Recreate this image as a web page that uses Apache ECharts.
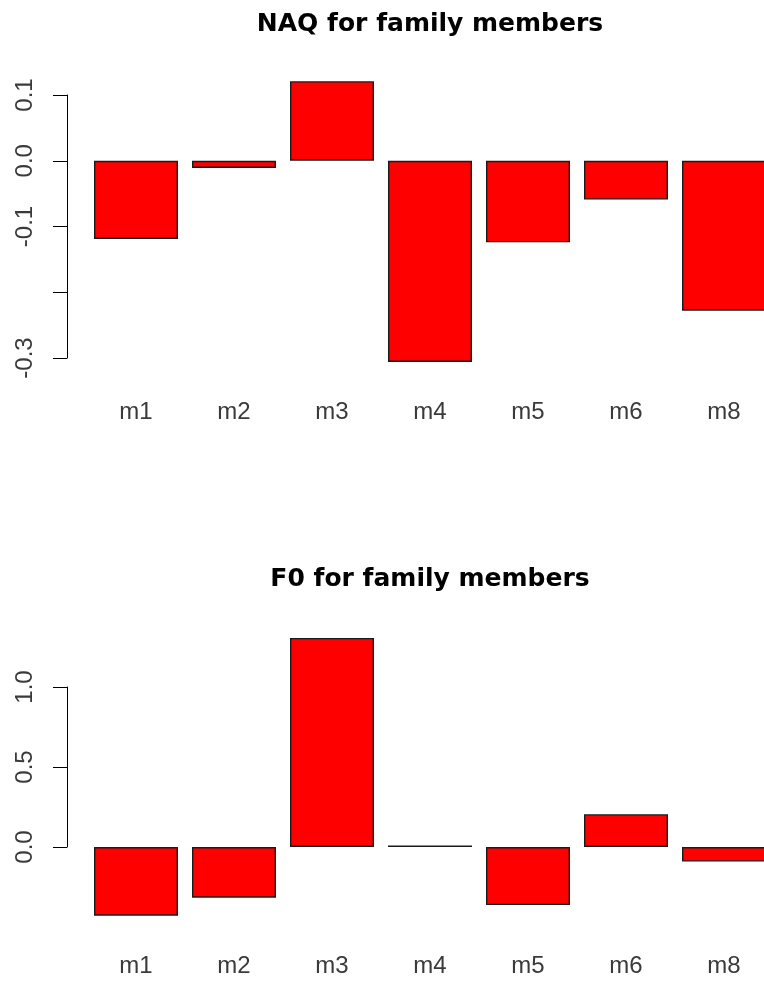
<!DOCTYPE html>
<html>
<head>
<meta charset="utf-8">
<script src="https://cdn.jsdelivr.net/npm/echarts@6/dist/echarts.min.js"></script>
<style>
  html, body { margin: 0; padding: 0; background: #fff; }
  #chart { width: 764px; height: 989px; }
</style>
</head>
<body>
<div id="chart"></div>
<script>
var members = ["m1", "m2", "m3", "m4", "m5", "m6", "m8"];
var naqValues = [-0.119, -0.011, 0.121, -0.306, -0.124, -0.059, -0.228];
var f0Values = [-0.429, -0.317, 1.307, 0.01, -0.363, 0.205, -0.091];
var naqTicks = { min: -0.3, max: 0.1, interval: 0.1, hidden: [-0.2] };
var f0Ticks = { min: 0, max: 1, interval: 0.5, hidden: [] };

function tickLabel(hidden) {
	return function (v) {
		for (var i = 0; i < hidden.length; i++) {
			if (Math.abs(v - hidden[i]) < 1e-9) return '';
		}
		return v.toFixed(1);
	};
}

function valueAxis(idx, t) {
	return {
		type: 'value',
		gridIndex: idx,
		min: t.min,
		max: t.max,
		interval: t.interval,
		offset: 20,
		splitLine: { show: false },
		axisLine: { show: true, lineStyle: { color: '#000', width: 1 } },
		axisTick: { show: true, length: 14, lineStyle: { color: '#000', width: 1 } },
		axisLabel: {
			rotate: 90,
			margin: 30,
			fontFamily: 'Liberation Sans',
			fontSize: 24,
			color: '#3a3a3a',
			formatter: tickLabel(t.hidden)
		}
	};
}

function catAxis(idx, margin) {
	return {
		type: 'category',
		gridIndex: idx,
		data: members,
		axisLine: { show: false, onZero: false },
		axisTick: { show: false },
		axisLabel: {
			margin: margin,
			fontFamily: 'Liberation Sans',
			fontSize: 24,
			color: '#3a3a3a'
		}
	};
}

function barSeries(idx, values) {
	return {
		type: 'bar',
		xAxisIndex: idx,
		yAxisIndex: idx,
		data: values,
		barWidth: 84,
		clip: false,
		itemStyle: { color: '#ff0000', borderColor: '#1a1a1a', borderWidth: 1.4 },
		emphasis: { disabled: true }
	};
}

var titleStyle = {
	fontFamily: 'DejaVu Sans',
	fontWeight: 'bold',
	fontSize: 25,
	color: '#000'
};

var option = {
	animation: false,
	backgroundColor: '#fff',
	title: [
		{ text: 'NAQ for family members', left: 430, top: 12, textAlign: 'center', padding: 0, textStyle: titleStyle },
		{ text: 'F0 for family members', left: 430, top: 567, textAlign: 'center', padding: 0, textStyle: titleStyle }
	],
	grid: [
		{ left: 87, width: 686, top: 95, height: 263, outerBoundsMode: 'none', containLabel: false },
		{ left: 87, width: 686, top: 687, height: 160, outerBoundsMode: 'none', containLabel: false }
	],
	xAxis: [catAxis(0, 42), catAxis(1, 107)],
	yAxis: [valueAxis(0, naqTicks), valueAxis(1, f0Ticks)],
	series: [barSeries(0, naqValues), barSeries(1, f0Values)]
};

var myChart = echarts.init(document.getElementById('chart'), null, { renderer: 'canvas' });
myChart.setOption(option);
</script>
</body>
</html>
